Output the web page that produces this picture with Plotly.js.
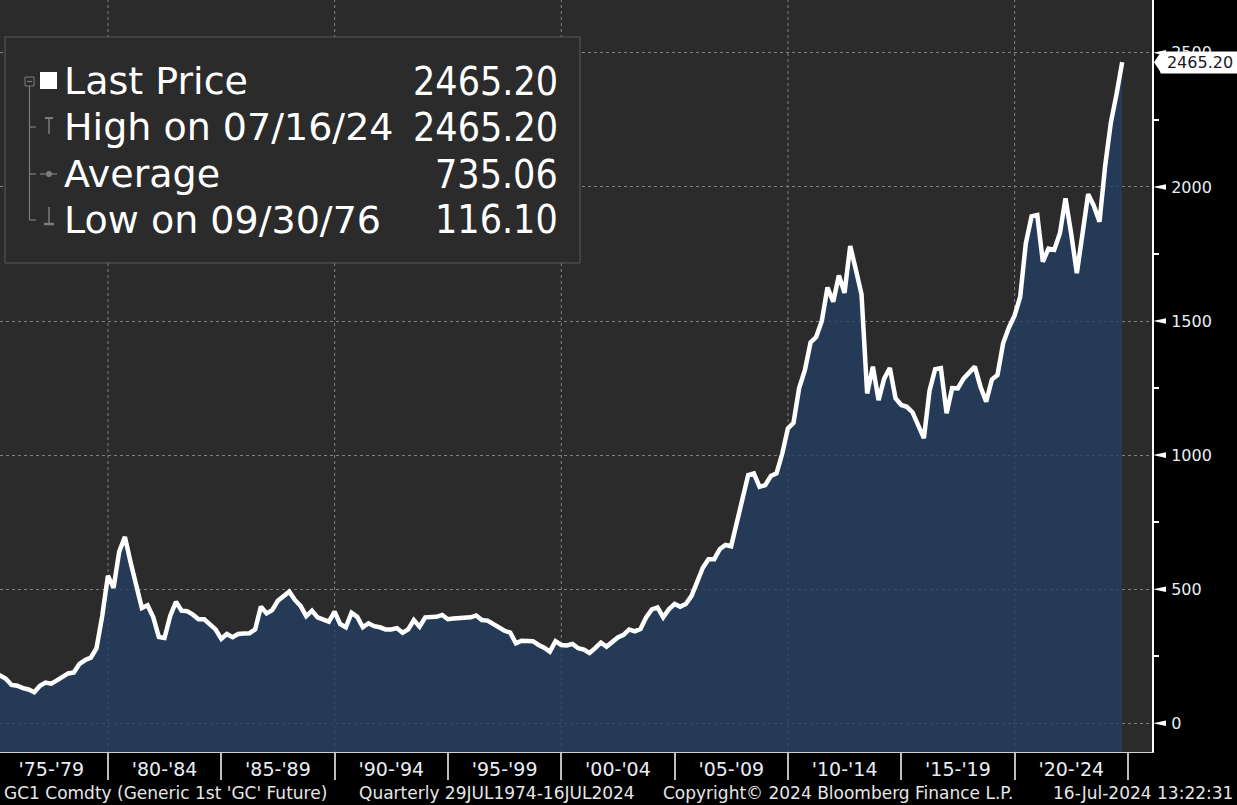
<!DOCTYPE html>
<html>
<head>
<meta charset="utf-8">
<script src="https://cdn.plot.ly/plotly-3.0.1.min.js"></script>
<style>
html,body{margin:0;padding:0;background:#000;}
#chart{width:1237px;height:805px;}
</style>
</head>
<body>
<div id="chart"></div>
<script>
// ---------------- data ----------------
const FIRST_YEAR = 1974;      // first quarter of the series: Q3 1974
const FIRST_QUARTER = 3;
// GC1 quarterly last prices, Q3 1974 .. Q3 2024
const PRICES = [
  152, 186, 178, 166, 143, 140, 131, 126, 116.1, 140,
  152, 148, 160, 172, 186, 190, 222, 236, 245, 280,
  400, 550, 505, 640, 695, 600, 510, 430, 440, 395,
  322, 318, 400, 453, 420, 418, 405, 388, 388, 370,
  350, 315, 333, 321, 333, 335, 336, 350, 435, 410,
  422, 457, 475, 491, 460, 438, 400, 420, 395, 385,
  379, 416, 370, 358, 412, 397, 358, 373, 362, 358,
  350, 350, 355, 338, 350, 385, 360, 395, 395, 397,
  404, 388, 391, 391, 391, 395, 402, 385, 383, 370,
  358, 345, 338, 298, 308, 308, 306, 292, 282, 267,
  306, 292, 290, 296, 280, 275, 262, 280, 301, 286,
  304, 320, 330, 350, 343, 352, 395, 425, 432, 395,
  425, 445, 435, 445, 475, 530, 580, 612, 612, 650,
  665, 660, 745, 838, 926, 932, 882, 888, 922, 932,
  1005, 1100, 1120, 1250, 1317, 1420, 1440, 1500, 1625, 1572,
  1670, 1605, 1780, 1690, 1600, 1230, 1330, 1205, 1285, 1325,
  1212, 1187, 1180, 1160, 1115, 1063, 1240, 1320, 1324, 1156,
  1250, 1249, 1285, 1305, 1330, 1255, 1199, 1282, 1299, 1417,
  1475, 1520, 1590, 1790, 1890, 1895, 1721, 1770, 1765, 1827,
  1957, 1827, 1678, 1827, 1973, 1930, 1870, 2080, 2240, 2345,
  2465.2
];
const PERIOD_START_YEARS = [1975, 1980, 1985, 1990, 1995, 2000, 2005, 2010, 2015, 2020];
const PERIOD_LABELS = ["'75-'79", "'80-'84", "'85-'89", "'90-'94", "'95-'99",
                       "'00-'04", "'05-'09", "'10-'14", "'15-'19", "'20-'24"];
const GRID_YEARS = [1980, 1990, 2000, 2010, 2020];
const Y_TICKS = [0, 500, 1000, 1500, 2000, 2500];
const Y_MINOR = [250, 750, 1250, 1750, 2250];
const LEGEND_LABELS = ['Last Price', 'High on 07/16/24', 'Average', 'Low on 09/30/76'];
const LEGEND_VALUES = ['2465.20', '2465.20', '735.06', '116.10'];
const FOOTER_TEXTS = ["GC1 Comdty (Generic 1st 'GC' Future)", 'Quarterly 29JUL1974-16JUL2024',
                      'Copyright\u00a9 2024 Bloomberg Finance L.P.', '16-Jul-2024 13:22:31'];

// ---------------- geometry / style ----------------
const W = 1237, H = 805, MR = 85, MB = 53;
const PW = W - MR, PH = H - MB;
const px = x => x / PW;
const py = y => (PH - y) / PH;
const Y_RANGE = [-107, 2697];
const X_RANGE = ['1975-03-28', '2026-01-23'];
const UPP = (Y_RANGE[1] - Y_RANGE[0]) / PH;   // data units per pixel
const FONT = 'DejaVu Sans, Liberation Sans, sans-serif';
const FONT_C = 'DejaVu Sans Condensed, Liberation Sans Narrow, DejaVu Sans, sans-serif';
const GRID = '#808080';
const TREE = '#7d7d7d';

const QEND = ['03-31', '06-30', '09-30', '12-31'];
const dates = PRICES.map((_, i) => {
  const q = FIRST_QUARTER - 1 + i;
  return (FIRST_YEAR + Math.floor(q / 4)) + '-' + QEND[q % 4];
});
const LAST = PRICES[PRICES.length - 1];

const traces = [
  { x: dates, y: dates.map(() => Y_RANGE[0]), mode: 'lines', line: {width: 0, color: 'rgba(0,0,0,0)'},
    hoverinfo: 'skip', showlegend: false },
  { x: dates, y: PRICES, mode: 'lines', line: {color: '#ffffff', width: 4.5},
    fill: 'tonexty', fillcolor: 'rgba(35,62,97,0.8)', showlegend: false }
];

const shapes = [];
GRID_YEARS.forEach(y => shapes.push({
  type: 'line', xref: 'x', yref: 'paper', x0: y + '-01-01', x1: y + '-01-01', y0: 0, y1: 1,
  line: {color: GRID, width: 1, dash: 'dot'}, layer: 'below'
}));
// tick wedges on the right axis
Y_TICKS.forEach(v => shapes.push({
  type: 'path', xref: 'paper', yref: 'y',
  path: `M ${px(PW + 1)} ${v} L ${px(PW + 14)} ${v + 2.8 * UPP} L ${px(PW + 14)} ${v - 2.8 * UPP} Z`,
  fillcolor: '#ffffff', line: {width: 0}
}));
// last price tag arrow
shapes.push({
  type: 'path', xref: 'paper', yref: 'y',
  path: `M ${px(PW + 2)} ${LAST} L ${px(PW + 9)} ${LAST + 10.5 * UPP} L ${px(PW + 9)} ${LAST - 10.5 * UPP} Z`,
  fillcolor: '#ffffff', line: {width: 0}
});
// legend box
shapes.push({type: 'rect', xref: 'paper', yref: 'paper', x0: px(5), x1: px(580), y0: py(263), y1: py(37),
  fillcolor: '#2b2b2b', line: {color: '#5a5a5a', width: 1}, layer: 'above'});
// legend icons
const ln = (x0, y0, x1, y1, w) => ({type: 'line', xref: 'paper', yref: 'paper',
  x0: px(x0), x1: px(x1), y0: py(y0), y1: py(y1), line: {color: TREE, width: w || 1.2}, layer: 'above'});
shapes.push({type: 'rect', xref: 'paper', yref: 'paper', x0: px(40), x1: px(57), y0: py(89), y1: py(72),
  fillcolor: '#ffffff', line: {width: 0}, layer: 'above'});
shapes.push({type: 'rect', xref: 'paper', yref: 'paper', x0: px(25), x1: px(34), y0: py(86), y1: py(77),
  fillcolor: 'rgba(0,0,0,0)', line: {color: TREE, width: 1}, layer: 'above'});
shapes.push(ln(27, 81.5, 32, 81.5));
shapes.push(ln(29.5, 86, 29.5, 220));
shapes.push(ln(29.5, 127, 36, 127));
shapes.push(ln(29.5, 174, 36, 174));
shapes.push(ln(29.5, 220, 36, 220));
shapes.push(ln(49, 118, 49, 134, 1.5));
shapes.push(ln(45, 118, 53, 118, 2));
shapes.push(ln(40, 174, 57, 174, 1.2));
shapes.push({type: 'circle', xref: 'paper', yref: 'paper', x0: px(46), x1: px(52), y0: py(177), y1: py(171),
  fillcolor: TREE, line: {width: 0}, layer: 'above'});
shapes.push(ln(49, 207, 49, 223, 1.5));
shapes.push(ln(44, 224, 54, 224, 2.5));

const annotations = [];
LEGEND_LABELS.forEach((t, i) => {
  const yRow = [81, 127, 174, 220][i];
  annotations.push({xref: 'paper', yref: 'paper', x: px(62), y: py(yRow), xanchor: 'left', yanchor: 'middle',
    text: t, showarrow: false, font: {family: FONT, size: 38, color: '#ffffff'}});
  annotations.push({xref: 'paper', yref: 'paper', x: px(560), y: py(yRow), xanchor: 'right', yanchor: 'middle',
    text: LEGEND_VALUES[i], showarrow: false, font: {family: FONT_C, size: 39, color: '#ffffff'}});
});
annotations.push({xref: 'paper', yref: 'y', x: px(PW + 8), y: LAST, xanchor: 'left', yanchor: 'middle',
  text: LEGEND_VALUES[0], showarrow: false, bgcolor: '#ffffff', borderpad: 1, width: 76,
  font: {family: FONT, size: 16, color: '#1a1a1a'}});
const footX = [2, 357, 661, 1235];
FOOTER_TEXTS.forEach((t, i) => annotations.push({
  xref: 'paper', yref: 'paper', x: px(footX[i]), y: py(793), xanchor: i === 3 ? 'right' : 'left', yanchor: 'middle',
  text: t, showarrow: false, font: {family: FONT, size: 17, color: '#e6e6e6'}
}));

const layout = {
  width: W, height: H, autosize: false,
  margin: {l: 0, r: MR, t: 0, b: MB, pad: 0},
  paper_bgcolor: '#000000', plot_bgcolor: '#2b2b2b',
  showlegend: false,
  xaxis: {
    type: 'date', range: X_RANGE, fixedrange: true,
    tickmode: 'array',
    tickvals: PERIOD_START_YEARS.map(y => (y + 2) + '-07-02'),
    ticktext: PERIOD_LABELS,
    ticks: '', showgrid: false, zeroline: false,
    showline: true, linecolor: '#d0d0d0', linewidth: 1,
    tickfont: {family: FONT, size: 19, color: '#e8eef4'},
    minor: {tickmode: 'array', tickvals: PERIOD_START_YEARS.slice(1).concat([2025]).map(y => y + '-01-01'),
            ticks: 'outside', ticklen: 27, tickwidth: 2, tickcolor: '#bdbdbd', showgrid: false}
  },
  yaxis: {
    side: 'right', range: Y_RANGE, fixedrange: true,
    tickmode: 'array', tickvals: Y_TICKS, ticktext: Y_TICKS.map(String),
    ticks: 'outside', ticklen: 14, tickcolor: 'rgba(0,0,0,0)',
    showline: true, linecolor: '#ffffff', linewidth: 2,
    showgrid: true, gridcolor: GRID, gridwidth: 1, griddash: 'dot', zeroline: false,
    tickfont: {family: FONT, size: 16, color: '#e8eef4'},
    minor: {tickmode: 'array', tickvals: Y_MINOR, ticks: 'outside', ticklen: 5, tickwidth: 2,
            tickcolor: '#ffffff', showgrid: false}
  },
  shapes: shapes,
  annotations: annotations
};

Plotly.newPlot('chart', traces, layout, {displayModeBar: false, staticPlot: true});
</script>
</body>
</html>
